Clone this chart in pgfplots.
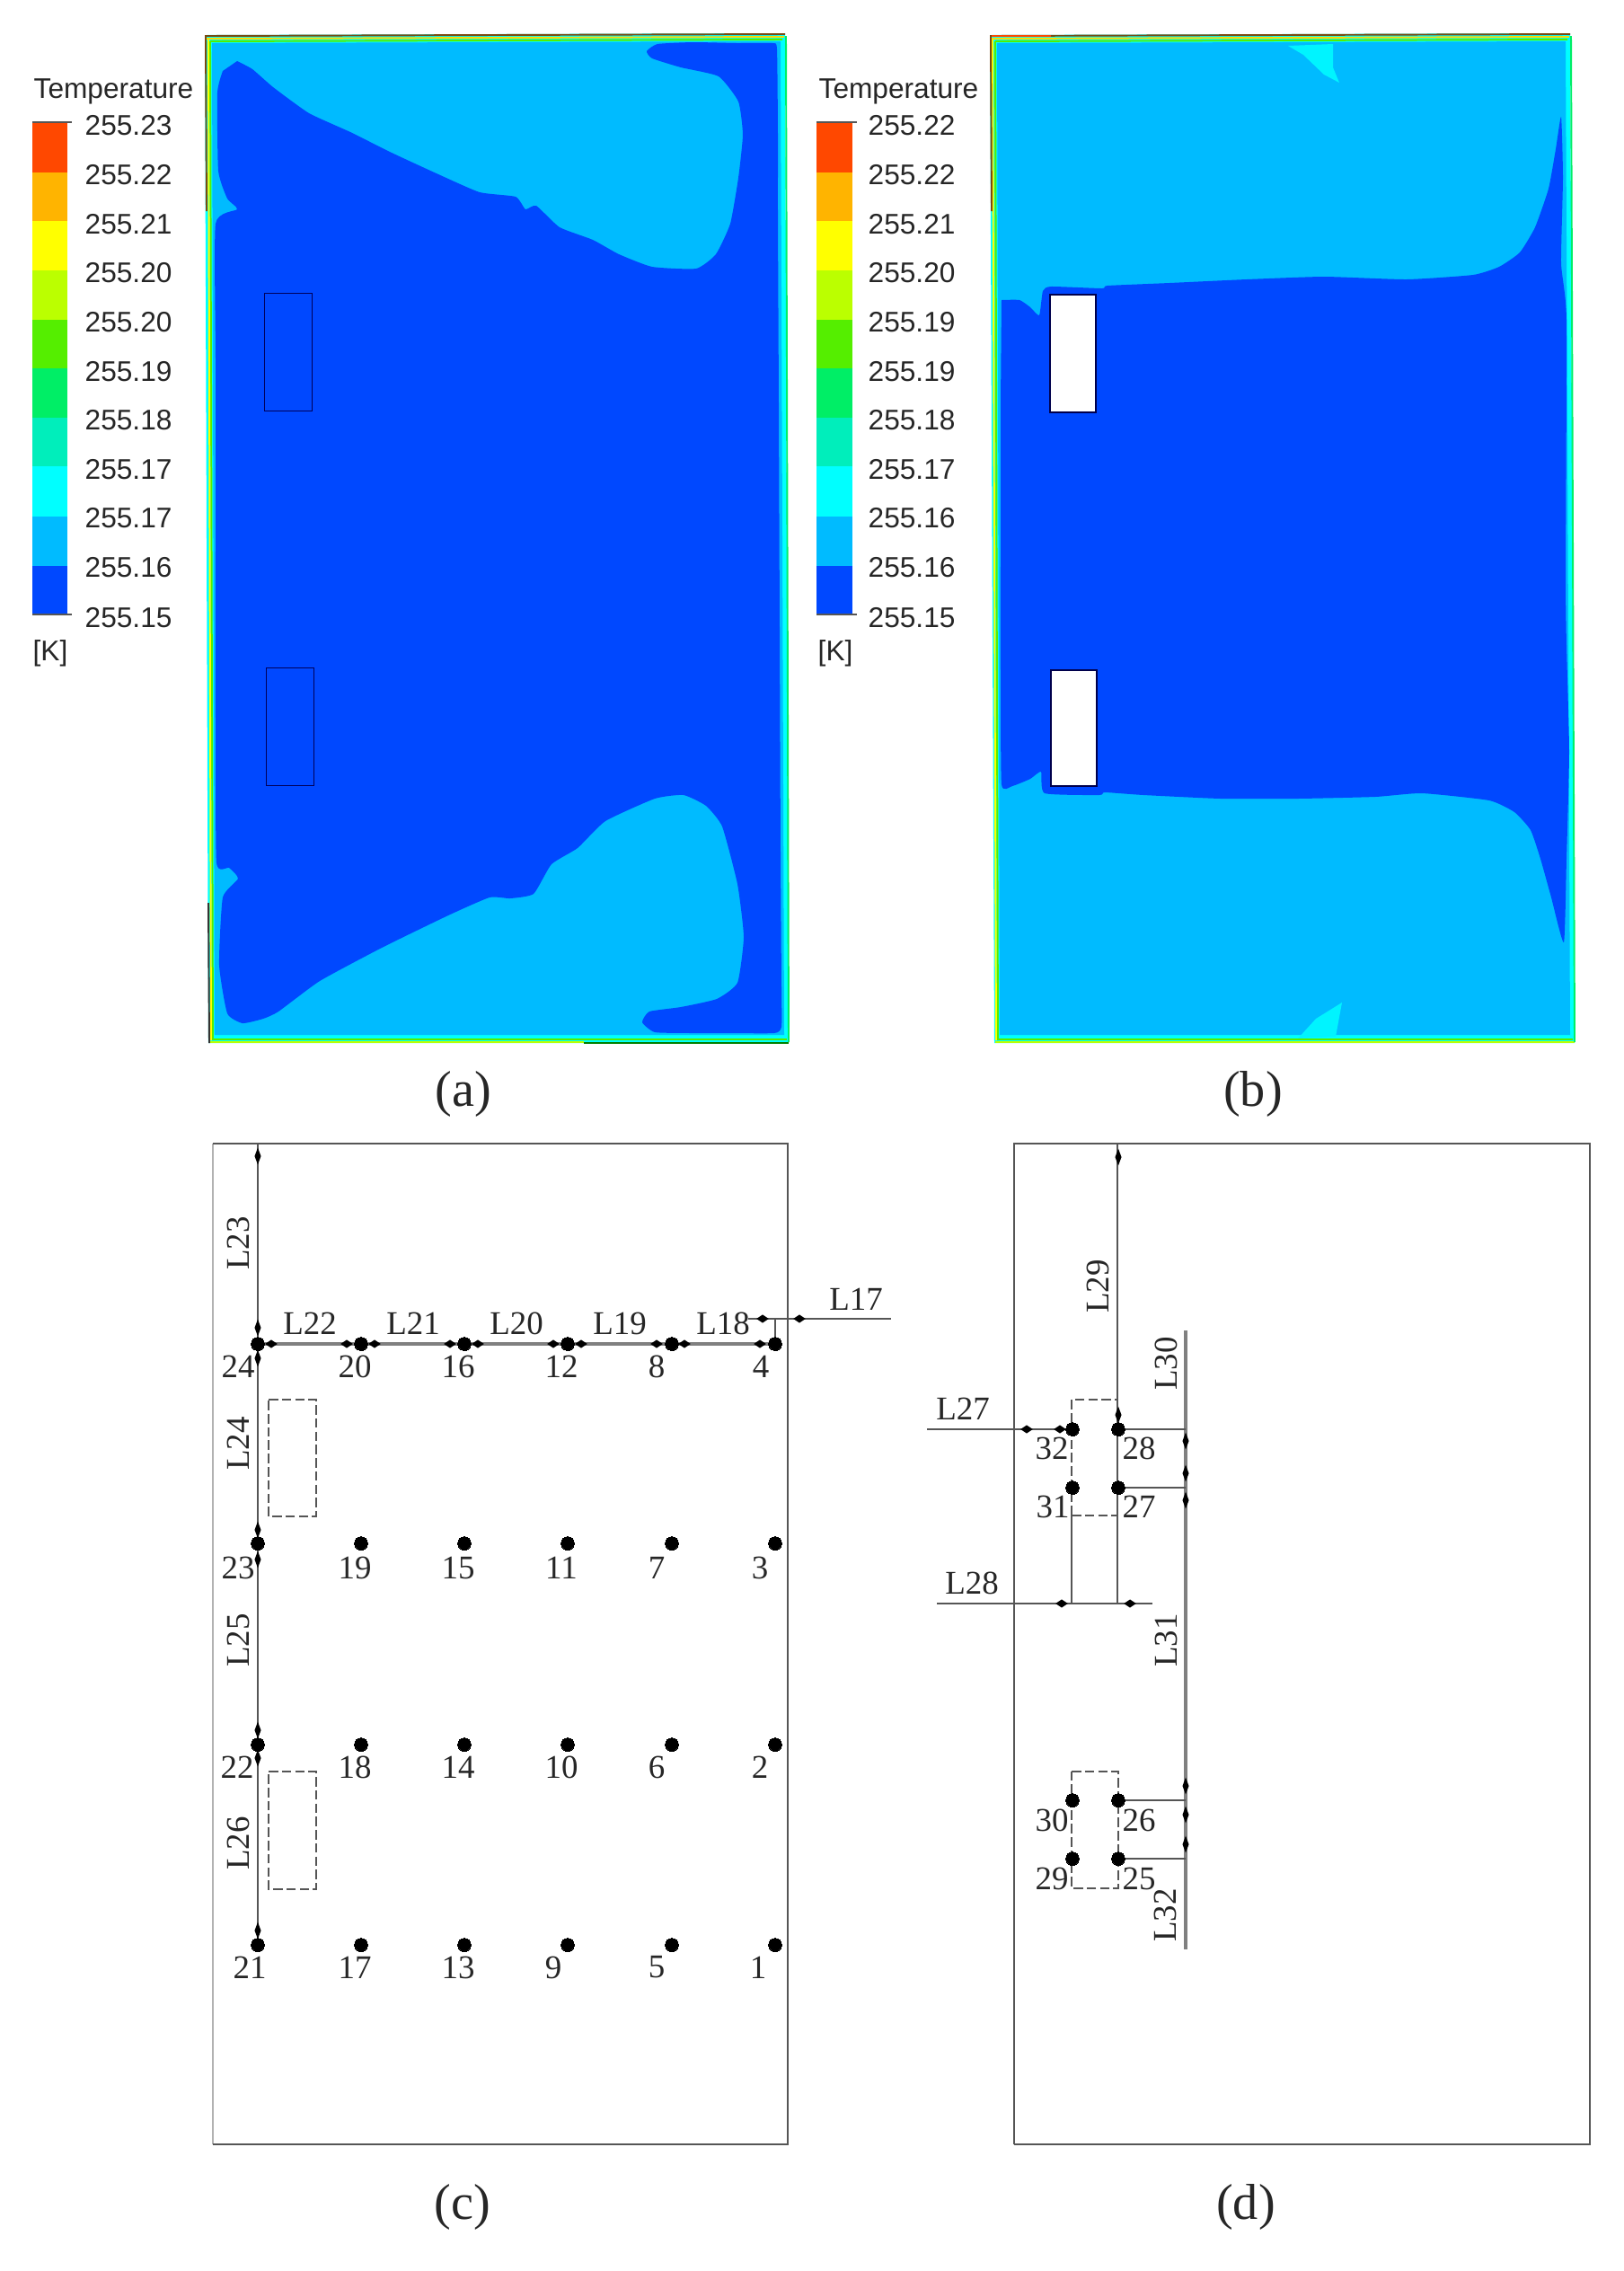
\documentclass[border=0pt]{standalone}
\usepackage{fontspec}
\setmainfont{Liberation Serif}
\newfontfamily\arial{Liberation Sans}
\usepackage{pgfplots}
\pgfplotsset{compat=1.18}

\definecolor{dk}{HTML}{0048FF}
\definecolor{lt}{HTML}{00BBFF}
\definecolor{cy}{HTML}{00F4FF}
\definecolor{c1}{HTML}{FF4800}
\definecolor{c2}{HTML}{FFB400}
\definecolor{c3}{HTML}{FFFF00}
\definecolor{c4}{HTML}{BBFF00}
\definecolor{c5}{HTML}{55EE00}
\definecolor{c6}{HTML}{00EE66}
\definecolor{c7}{HTML}{00EEBB}
\definecolor{c8}{HTML}{00FFFF}
\definecolor{c9}{HTML}{00BBFF}
\definecolor{c10}{HTML}{0048FF}
\definecolor{gl}{HTML}{555555}
\definecolor{brn}{HTML}{7A4A10}

\pgfplotsset{
  band/.style={fill=#1, draw=none, forget plot},
  gline/.style={color=gl, line width=0.55pt},
  thickg/.style={color=gl!75, line width=0.9pt},
  dashbox/.style={color=gl, line width=0.45pt, dash pattern=on 3pt off 1.2pt},
  ptdots/.style={only marks, mark=*, mark size=2.1pt, mark options={fill=black, draw=black, line width=0pt}},
  harrow/.style={only marks, mark=diamond*, mark size=1.05pt, mark options={fill=black, draw=black, xscale=2}},
  varrow/.style={only marks, mark=diamond*, mark size=1.05pt, mark options={fill=black, draw=black, yscale=2}},
  rim/.style={color=#1, line width=0.55pt},
}
\tikzset{
  barlab/.style={font=\arial\fontsize{9}{9}\selectfont, text=black!85, inner sep=0pt, anchor=west},
  serlab/.style={font=\fontsize{10.5}{10.5}\selectfont, text=black!85, inner sep=0pt},
  rotlab/.style={serlab, rotate=90},
  panelcap/.style={font=\fontsize{16}{16}\selectfont, text=black!85, inner sep=0pt},
}

\begin{document}
\begin{tikzpicture}
\begin{axis}[
    scale only axis, width=18.08cm, height=25.28cm,
    xmin=0, xmax=1808, ymin=0, ymax=2528, y dir=reverse,
    hide axis, clip=false]

\addplot[fill=white, draw=none] coordinates {(0,0) (1808,0) (1808,2528) (0,2528)} --cycle;

% colour bar (a)
\addplot[band=c1] coordinates {(36,136) (75,136) (75,192) (36,192)} --cycle;
\addplot[band=c2] coordinates {(36,192) (75,192) (75,246) (36,246)} --cycle;
\addplot[band=c3] coordinates {(36,246) (75,246) (75,301) (36,301)} --cycle;
\addplot[band=c4] coordinates {(36,301) (75,301) (75,356) (36,356)} --cycle;
\addplot[band=c5] coordinates {(36,356) (75,356) (75,410) (36,410)} --cycle;
\addplot[band=c6] coordinates {(36,410) (75,410) (75,465) (36,465)} --cycle;
\addplot[band=c7] coordinates {(36,465) (75,465) (75,519) (36,519)} --cycle;
\addplot[band=c8] coordinates {(36,519) (75,519) (75,575) (36,575)} --cycle;
\addplot[band=c9] coordinates {(36,575) (75,575) (75,630) (36,630)} --cycle;
\addplot[band=c10] coordinates {(36,630) (75,630) (75,684) (36,684)} --cycle;
\addplot[color=gl, line width=0.3pt] coordinates {(36,136) (80,136)};
\addplot[color=gl, line width=0.3pt] coordinates {(36,684) (80,684)};

% colour bar (b)
\addplot[band=c1] coordinates {(909,136) (949,136) (949,192) (909,192)} --cycle;
\addplot[band=c2] coordinates {(909,192) (949,192) (949,246) (909,246)} --cycle;
\addplot[band=c3] coordinates {(909,246) (949,246) (949,301) (909,301)} --cycle;
\addplot[band=c4] coordinates {(909,301) (949,301) (949,356) (909,356)} --cycle;
\addplot[band=c5] coordinates {(909,356) (949,356) (949,410) (909,410)} --cycle;
\addplot[band=c6] coordinates {(909,410) (949,410) (949,465) (909,465)} --cycle;
\addplot[band=c7] coordinates {(909,465) (949,465) (949,519) (909,519)} --cycle;
\addplot[band=c8] coordinates {(909,519) (949,519) (949,575) (909,575)} --cycle;
\addplot[band=c9] coordinates {(909,575) (949,575) (949,630) (909,630)} --cycle;
\addplot[band=c10] coordinates {(909,630) (949,630) (949,684) (909,684)} --cycle;
\addplot[color=gl, line width=0.3pt] coordinates {(909,136) (954,136)};
\addplot[color=gl, line width=0.3pt] coordinates {(909,684) (954,684)};

% panel (a) contour
\addplot[band=c8] coordinates {(228,39) (874,37) (878,1161) (232,1161)} --cycle;
\addplot[band=lt] coordinates {(236,48) (869,46) (873,1152) (239,1152)} --cycle;
\addplot[band=dk, smooth, tension=0.3] coordinates {
(264,68) (281,77) (304,97) (344,126) (390,147) (436,170) (488,194) (534,214)
(574,219) (585,233) (597,229) (623,253) (660,267) (689,283) (726,297) (775,299)
(797,283) (813,249) (822,198) (827,150) (822,113) (800,85) (758,75) (726,65)
(720,57) (732,49) (772,47) (820,48) (860,48) (865,55) (866,150) (866,237) (867,450)
(868,700) (869,950) (870,1100) (870,1143) (862,1150) (810,1150) (770,1150)
(729,1149) (715,1138) (723,1126) (758,1121) (798,1112) (821,1094) (828,1043)
(821,984) (804,920) (786,897) (761,885) (729,889) (674,914) (643,944) (614,962)
(594,995) (568,1000) (545,999) (499,1019) (425,1055) (356,1092) (310,1126)
(293,1134) (270,1139) (253,1128) (244,1074) (248,999) (265,978) (255,966)
(241,960) (240,800) (240,600) (240,400) (240,249) (264,233) (253,221) (243,190)
(242,103) (248,79)} --cycle;
\addplot[rim=c5] coordinates {(234,46) (871,44)};
\addplot[rim=c3!70!orange] coordinates {(230,43) (873,41)};
\addplot[rim=brn] coordinates {(228,40) (874,38)};
\addplot[rim=c5] coordinates {(234,46) (237,1158)};
\addplot[rim=c3] coordinates {(232,44) (235,1158)};
\addplot[rim=brn] coordinates {(229,40) (230,235)};
\addplot[rim=black!80] coordinates {(232,1005) (233,1161)};
\addplot[rim=c5] coordinates {(236,1157) (876,1157)};
\addplot[rim=c4] coordinates {(234,1160) (650,1160)};
\addplot[rim=green!50!black] coordinates {(650,1161) (878,1161)};
\addplot[rim=c6] coordinates {(875,40) (878,1160)};
\addplot[color=black!65!blue, line width=0.25pt] coordinates {(294,326) (347,326) (347,457) (294,457) (294,326)};
\addplot[color=black!65!blue, line width=0.25pt] coordinates {(296,743) (349,743) (349,874) (296,874) (296,743)};

% panel (b) contour
\addplot[band=c8] coordinates {(1102,39) (1748,37) (1753,1161) (1107,1161)} --cycle;
\addplot[band=lt] coordinates {(1110,48) (1743,46) (1748,1152) (1113,1152)} --cycle;
\addplot[band=dk, smooth, tension=0.3] coordinates {
(1115,334) (1135,334) (1147,342) (1157,351) (1161,324) (1170,319) (1227,321)
(1233,318) (1302,315) (1388,311) (1474,308) (1566,311) (1640,306) (1669,297)
(1692,281) (1709,253) (1724,210) (1732,166) (1738,130) (1740,198) (1738,293)
(1744,356) (1743,640) (1744,719) (1747,837) (1744,956) (1741,1049) (1727,999)
(1715,956) (1704,924) (1686,904) (1658,891) (1583,883) (1531,887) (1445,889)
(1359,889) (1273,885) (1230,882) (1224,885) (1163,883) (1159,859) (1147,867)
(1127,875) (1115,873) (1114,750) (1114,600) (1114,450)} --cycle;
\addplot[band=cy] coordinates {(1434,51) (1451,61) (1474,83) (1491,92) (1484,75) (1484,49)} --cycle;
\addplot[band=cy] coordinates {(1445,1156) (1465,1134) (1494,1116) (1487,1154)} --cycle;
\addplot[fill=white, draw=black!70!blue, line width=0.45pt] coordinates {(1169,328) (1220,328) (1220,459) (1169,459)} --cycle;
\addplot[fill=white, draw=black!70!blue, line width=0.45pt] coordinates {(1170,746) (1221,746) (1221,875) (1170,875)} --cycle;
\addplot[rim=c5] coordinates {(1108,46) (1745,44)};
\addplot[rim=c3!70!orange] coordinates {(1104,43) (1747,41)};
\addplot[rim=brn] coordinates {(1102,40) (1748,38)};
\addplot[rim=c1] coordinates {(1104,40) (1170,40)};
\addplot[rim=c5] coordinates {(1108,46) (1111,1158)};
\addplot[rim=c3] coordinates {(1105,44) (1109,1158)};
\addplot[rim=brn] coordinates {(1103,40) (1104,235)};
\addplot[rim=c5] coordinates {(1110,1157) (1751,1157)};
\addplot[rim=c4] coordinates {(1108,1160) (1753,1160)};
\addplot[rim=c6] coordinates {(1749,40) (1753,1160)};

% panel (c)
\addplot[color=gl!45, line width=0.6pt] coordinates {(237,1273) (237,2387)};
\addplot[gline] coordinates {(237,1273) (877,1273) (877,2387) (237,2387)};
\addplot[gline] coordinates {(287,1273) (287,2165)};
\addplot[thickg] coordinates {(287,1496) (863,1496)};
\addplot[gline] coordinates {(833,1468) (992,1468)};
\addplot[gline] coordinates {(863,1468) (863,1496)};
\addplot[dashbox] coordinates {(299,1558) (352,1558) (352,1688) (299,1688) (299,1558)};
\addplot[dashbox] coordinates {(299,1972) (352,1972) (352,2103) (299,2103) (299,1972)};
\addplot[ptdots] coordinates {
(287,1496) (402,1496) (517,1496) (632,1496) (748,1496) (863,1496)
(287,1718) (402,1718) (517,1718) (632,1718) (748,1718) (863,1718)
(287,1942) (402,1942) (517,1942) (632,1942) (748,1942) (863,1942)
(287,2165) (402,2165) (517,2165) (632,2165) (748,2165) (863,2165)};
\addplot[harrow] coordinates {(302,1496) (386,1496) (417,1496) (501,1496) (532,1496) (616,1496) (647,1496) (731,1496) (762,1496) (846,1496) (849,1468) (890,1468)};
\addplot[varrow] coordinates {(287,1287) (287,1478) (287,1512) (287,1703) (287,1736) (287,1926) (287,1957) (287,2149)};

% panel (d)
\addplot[gline] coordinates {(1129,2387) (1129,1273) (1770,1273) (1770,2387) (1129,2387)};
\addplot[gline] coordinates {(1244,1273) (1244,1785)};
\addplot[gline] coordinates {(1193,1687) (1193,1785)};
\addplot[dashbox] coordinates {(1193,1687) (1193,1558) (1245,1558)};
\addplot[dashbox] coordinates {(1193,1687) (1245,1687)};
\addplot[dashbox] coordinates {(1193,1972) (1245,1972) (1245,2102) (1193,2102) (1193,1972)};
\addplot[gline] coordinates {(1032,1591) (1194,1591)};
\addplot[gline] coordinates {(1043,1785) (1283,1785)};
\addplot[thickg] coordinates {(1320,1481) (1320,2170)};
\addplot[gline] coordinates {(1245,1591) (1320,1591)};
\addplot[gline] coordinates {(1245,1656) (1320,1656)};
\addplot[gline] coordinates {(1245,2004) (1320,2004)};
\addplot[gline] coordinates {(1245,2069) (1320,2069)};
\addplot[ptdots] coordinates {(1194,1591) (1245,1591) (1194,1656) (1245,1656) (1194,2004) (1245,2004) (1194,2069) (1245,2069)};
\addplot[harrow] coordinates {(1143,1591) (1180,1591) (1182,1785) (1258,1785)};
\addplot[varrow] coordinates {(1245,1288) (1245,1575) (1320,1604) (1320,1640) (1320,1670) (1320,1988) (1320,2020) (1320,2053)};

% colour bar text (a)
\node[barlab] at (37,102) {Temperature};
\node[barlab] at (94,140) {255.23};
\node[barlab] at (94,195) {255.22};
\node[barlab] at (94,250) {255.21};
\node[barlab] at (94,304) {255.20};
\node[barlab] at (94,359) {255.20};
\node[barlab] at (94,414) {255.19};
\node[barlab] at (94,468) {255.18};
\node[barlab] at (94,523) {255.17};
\node[barlab] at (94,577) {255.17};
\node[barlab] at (94,632) {255.16};
\node[barlab] at (94,688) {255.15};
\node[barlab] at (36,727) {[K]};

% colour bar text (b)
\node[barlab] at (911,102) {Temperature};
\node[barlab] at (966,140) {255.22};
\node[barlab] at (966,195) {255.22};
\node[barlab] at (966,250) {255.21};
\node[barlab] at (966,304) {255.20};
\node[barlab] at (966,359) {255.19};
\node[barlab] at (966,414) {255.19};
\node[barlab] at (966,468) {255.18};
\node[barlab] at (966,523) {255.17};
\node[barlab] at (966,577) {255.16};
\node[barlab] at (966,632) {255.16};
\node[barlab] at (966,688) {255.15};
\node[barlab] at (910,727) {[K]};

% captions
\node[panelcap] at (516,1218) {(a)};
\node[panelcap] at (1395,1218) {(b)};
\node[panelcap] at (515,2457) {(c)};
\node[panelcap] at (1387,2457) {(d)};

% point numbers (c)
\node[serlab] at (265,1521) {24};
\node[serlab] at (395,1521) {20};
\node[serlab] at (510,1521) {16};
\node[serlab] at (625,1521) {12};
\node[serlab] at (731,1521) {8};
\node[serlab] at (847,1521) {4};
\node[serlab] at (265,1745) {23};
\node[serlab] at (395,1745) {19};
\node[serlab] at (510,1745) {15};
\node[serlab] at (625,1745) {11};
\node[serlab] at (731,1745) {7};
\node[serlab] at (846,1745) {3};
\node[serlab] at (264,1967) {22};
\node[serlab] at (395,1967) {18};
\node[serlab] at (510,1967) {14};
\node[serlab] at (625,1967) {10};
\node[serlab] at (731,1967) {6};
\node[serlab] at (846,1967) {2};
\node[serlab] at (278,2190) {21};
\node[serlab] at (395,2190) {17};
\node[serlab] at (510,2190) {13};
\node[serlab] at (616,2190) {9};
\node[serlab] at (731,2190) {5};
\node[serlab] at (844,2190) {1};

% line names (c)
\node[serlab] at (345,1473) {L22};
\node[serlab] at (460,1473) {L21};
\node[serlab] at (575,1473) {L20};
\node[serlab] at (690,1473) {L19};
\node[serlab] at (805,1473) {L18};
\node[serlab] at (953,1446) {L17};
\node[rotlab] at (265,1384) {L23};
\node[rotlab] at (265,1607) {L24};
\node[rotlab] at (265,1826) {L25};
\node[rotlab] at (265,2052) {L26};

% point numbers and line names (d)
\node[serlab] at (1171,1612) {32};
\node[serlab] at (1268,1612) {28};
\node[serlab] at (1172,1677) {31};
\node[serlab] at (1268,1677) {27};
\node[serlab] at (1171,2026) {30};
\node[serlab] at (1268,2026) {26};
\node[serlab] at (1171,2091) {29};
\node[serlab] at (1268,2091) {25};
\node[serlab] at (1072,1568) {L27};
\node[serlab] at (1082,1762) {L28};
\node[rotlab] at (1222,1432) {L29};
\node[rotlab] at (1298,1518) {L30};
\node[rotlab] at (1298,1826) {L31};
\node[rotlab] at (1297,2132) {L32};

\end{axis}
\end{tikzpicture}
\end{document}
